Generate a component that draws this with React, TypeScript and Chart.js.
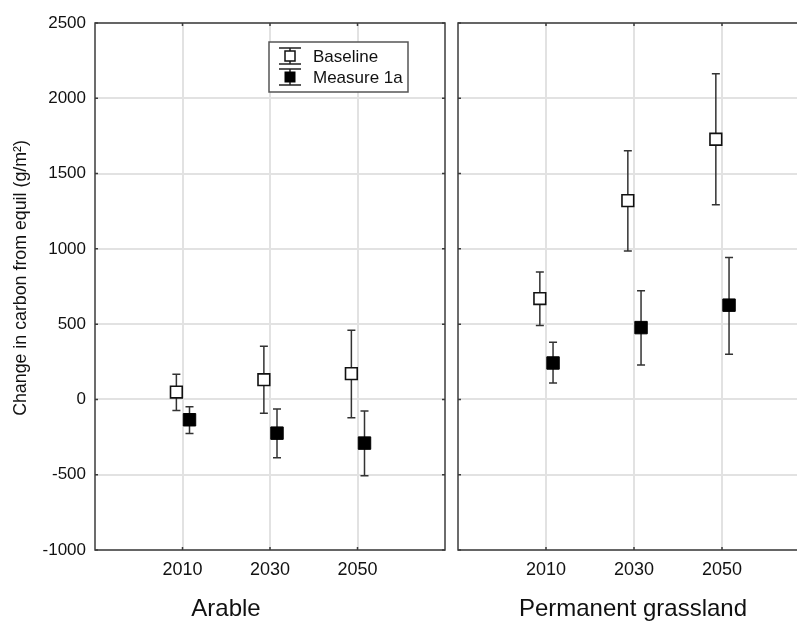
import React, { useEffect, useRef } from 'react';
import { Chart, registerables } from 'chart.js';

Chart.register(...registerables);

// ---------- data ----------
const years = ['2010', '2030', '2050'];
const panelTitles = ['Arable', 'Permanent grassland'];
const seriesNames = ['Baseline', 'Measure 1a'];
const yAxisTitle = 'Change in carbon from equil (g/m²)';
const yMin = -1000;
const yMax = 2500;
const yStep = 500;

const arableBaseline = [49, 131, 171];
const arableBaselineLow = [-73, -91, -121];
const arableBaselineHigh = [167, 353, 459];
const arableMeasure = [-135, -224, -290];
const arableMeasureLow = [-226, -388, -507];
const arableMeasureHigh = [-48, -64, -77];

const grassBaseline = [670, 1320, 1728];
const grassBaselineLow = [491, 985, 1293];
const grassBaselineHigh = [847, 1652, 2163];
const grassMeasure = [242, 477, 626];
const grassMeasureLow = [109, 229, 300];
const grassMeasureHigh = [380, 721, 943];

// ---------- styles ----------
const FONT = "'Liberation Sans', Arial, Helvetica, sans-serif";
const TEXT = '#111';
const GRID = '#e2e2e2';
const FRAME = '#3c3c3c';
const BAR = '#333';
const baselineOffset = -0.07;
const measureOffset = 0.08;

const toPoints = (vals: number[], off: number) => vals.map((v, i) => ({ x: i + 1 + off, y: v }));

const makeDatasets = (b: number[], bl: number[], bh: number[], m: number[], ml: number[], mh: number[]) => [
  {
    label: seriesNames[0],
    data: toPoints(b, baselineOffset),
    low: bl,
    high: bh,
    hollow: true,
    pointStyle: 'rect',
    pointRadius: 8.3,
    backgroundColor: '#fff',
    borderColor: '#111',
    borderWidth: 1.6,
    showLine: false,
  },
  {
    label: seriesNames[1],
    data: toPoints(m, measureOffset),
    low: ml,
    high: mh,
    hollow: false,
    pointStyle: 'rect',
    pointRadius: 8.8,
    backgroundColor: '#000',
    borderColor: '#000',
    borderWidth: 1,
    showLine: false,
  },
];

const errorBarPlugin = {
  id: 'errorBars',
  beforeDatasetsDraw(chart: any) {
    const { ctx, scales } = chart;
    const y = scales.y;
    ctx.save();
    ctx.strokeStyle = BAR;
    ctx.lineWidth = 1.5;
    chart.data.datasets.forEach((ds: any, di: number) => {
      const meta = chart.getDatasetMeta(di);
      meta.data.forEach((pt: any, i: number) => {
        const px = pt.x;
        const yl = y.getPixelForValue(ds.low[i]);
        const yh = y.getPixelForValue(ds.high[i]);
        ctx.beginPath();
        ctx.moveTo(px, yh);
        ctx.lineTo(px, yl);
        ctx.moveTo(px - 4, yh);
        ctx.lineTo(px + 4, yh);
        ctx.moveTo(px - 4, yl);
        ctx.lineTo(px + 4, yl);
        ctx.stroke();
      });
    });
    ctx.restore();
  },
};

const framePlugin = {
  id: 'frame',
  beforeDatasetsDraw(chart: any) {
    const { ctx, chartArea, scales } = chart;
    const { left, top, right, bottom } = chartArea;
    ctx.save();
    ctx.strokeStyle = FRAME;
    ctx.lineWidth = 1.5;
    ctx.strokeRect(left, top, right - left, bottom - top);
    ctx.beginPath();
    scales.x.ticks.forEach((t: any) => {
      const px = scales.x.getPixelForValue(t.value);
      ctx.moveTo(px, top);
      ctx.lineTo(px, top + 3);
      ctx.moveTo(px, bottom);
      ctx.lineTo(px, bottom - 3);
    });
    scales.y.ticks.forEach((t: any) => {
      const py = scales.y.getPixelForValue(t.value);
      ctx.moveTo(left, py);
      ctx.lineTo(left + 3, py);
      ctx.moveTo(right, py);
      ctx.lineTo(right - 3, py);
    });
    ctx.stroke();
    ctx.restore();
  },
};

const legendPlugin = {
  id: 'boxLegend',
  afterDraw(chart: any, _args: any, opts: any) {
    if (!opts || !opts.show) return;
    const { ctx, chartArea } = chart;
    const bx = chartArea.left + 174;
    const by = chartArea.top + 19;
    const bw = 139;
    const bh = 50;
    ctx.save();
    ctx.fillStyle = '#fff';
    ctx.fillRect(bx, by, bw, bh);
    ctx.strokeStyle = '#555';
    ctx.lineWidth = 1.5;
    ctx.strokeRect(bx, by, bw, bh);
    chart.data.datasets.forEach((ds: any, i: number) => {
      const cy = by + 14 + i * 21;
      const cx = bx + 21;
      ctx.strokeStyle = '#222';
      ctx.lineWidth = 1.5;
      ctx.beginPath();
      ctx.moveTo(cx, cy - 8);
      ctx.lineTo(cx, cy + 8);
      ctx.moveTo(cx - 11, cy - 8);
      ctx.lineTo(cx + 11, cy - 8);
      ctx.moveTo(cx - 11, cy + 8);
      ctx.lineTo(cx + 11, cy + 8);
      ctx.stroke();
      if (ds.hollow) {
        ctx.fillStyle = '#fff';
        ctx.fillRect(cx - 5, cy - 5, 10, 10);
        ctx.strokeStyle = '#111';
        ctx.strokeRect(cx - 5, cy - 5, 10, 10);
      } else {
        ctx.fillStyle = '#000';
        ctx.fillRect(cx - 5.5, cy - 5.5, 11, 11);
      }
      ctx.fillStyle = TEXT;
      ctx.font = `17px ${FONT}`;
      ctx.textAlign = 'left';
      ctx.textBaseline = 'middle';
      ctx.fillText(ds.label, bx + 44, cy + 1);
    });
    ctx.restore();
  },
};

const titlesPlugin = {
  id: 'titles',
  afterDraw(chart: any, _args: any, opts: any) {
    if (!opts) return;
    const { ctx, width } = chart;
    ctx.save();
    ctx.fillStyle = TEXT;
    if (opts.yText) {
      ctx.save();
      ctx.translate(21, 278);
      ctx.rotate(-Math.PI / 2);
      ctx.font = `17.8px ${FONT}`;
      ctx.textAlign = 'center';
      ctx.textBaseline = 'middle';
      ctx.fillText(opts.yText, 0, 0);
      ctx.restore();
    }
    if (opts.xText) {
      ctx.font = `24px ${FONT}`;
      ctx.textAlign = 'center';
      ctx.textBaseline = 'alphabetic';
      ctx.fillText(opts.xText, width / 2, 616);
    }
    ctx.restore();
  },
};

type PanelProps = {
  title: string;
  datasets: any[];
  yLabels: boolean;
  legend: boolean;
  width: number;
  left: number;
  axisWidth: number;
  padRight: number;
};

function Panel({ title, datasets, yLabels, legend, width, left, axisWidth, padRight }: PanelProps) {
  const ref = useRef<HTMLCanvasElement | null>(null);
  useEffect(() => {
    if (!ref.current) return;
    const chart = new Chart(ref.current, {
      type: 'scatter',
      data: { datasets },
      options: {
        animation: false,
        responsive: false,
        devicePixelRatio: 1,
        layout: { autoPadding: false, padding: { top: 23, right: padRight, bottom: 0, left: 0 } },
        plugins: {
          legend: { display: false },
          tooltip: { enabled: false },
          boxLegend: { show: legend },
          titles: { yText: yLabels ? yAxisTitle : '', xText: title },
        } as any,
        scales: {
          x: {
            type: 'linear',
            min: 0,
            max: 4,
            afterBuildTicks: (s: any) => {
              s.ticks = years.map((_, i) => ({ value: i + 1 }));
            },
            afterFit: (s: any) => {
              s.height = 71;
            },
            ticks: {
              autoSkip: false,
              maxRotation: 0,
              padding: 9,
              color: TEXT,
              font: { size: 18, family: FONT },
              callback: (v: any) => years[Number(v) - 1] ?? '',
            },
            grid: { color: GRID, lineWidth: 2, drawTicks: false },
            border: { display: false },
          },
          y: {
            type: 'linear',
            min: yMin,
            max: yMax,
            afterFit: (s: any) => {
              s.width = axisWidth;
            },
            ticks: {
              stepSize: yStep,
              display: yLabels,
              padding: 9,
              color: TEXT,
              font: { size: 17, family: FONT },
              callback: (v: any) => String(v),
            },
            grid: { color: GRID, lineWidth: 2, drawTicks: false },
            border: { display: false },
          },
        },
      } as any,
      plugins: [framePlugin, errorBarPlugin, legendPlugin, titlesPlugin],
    });
    return () => chart.destroy();
  }, []);
  return (
    <canvas
      ref={ref}
      width={width}
      height={621}
      style={{ position: 'absolute', left, top: 0, width, height: 621 }}
    />
  );
}

export default function App() {
  const arableSets = makeDatasets(
    arableBaseline, arableBaselineLow, arableBaselineHigh,
    arableMeasure, arableMeasureLow, arableMeasureHigh
  );
  const grassSets = makeDatasets(
    grassBaseline, grassBaselineLow, grassBaselineHigh,
    grassMeasure, grassMeasureLow, grassMeasureHigh
  );
  return (
    <div
      style={{
        position: 'fixed',
        left: 0,
        top: 0,
        width: 797,
        height: 621,
        overflow: 'hidden',
        background: '#fff',
      }}
    >
      <Panel title={panelTitles[0]} datasets={arableSets} yLabels={true} legend={true} width={452} left={0} axisWidth={95} padRight={7} />
      <Panel title={panelTitles[1]} datasets={grassSets} yLabels={false} legend={false} width={362} left={452} axisWidth={6} padRight={4} />
    </div>
  );
}
